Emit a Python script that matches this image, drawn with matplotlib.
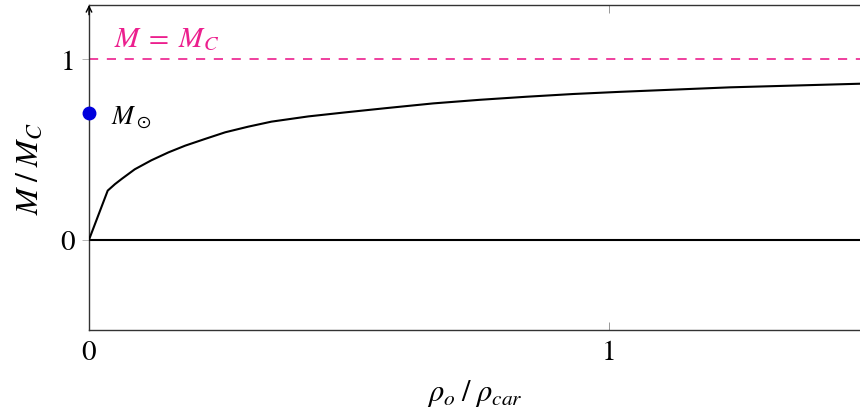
import matplotlib.pyplot as plt
import numpy as np

plt.rcParams['mathtext.fontset'] = 'stix'
plt.rcParams['font.family'] = 'STIXGeneral'

# curve (rho_o / rho_car vs M / M_C)
rho_ratio = [0.0, 0.036, 0.050, 0.063, 0.088, 0.12, 0.153, 0.185, 0.223, 0.262, 0.306,
             0.351, 0.422, 0.492, 0.572, 0.662, 0.752, 0.842, 0.931, 1.021,
             1.233, 1.483]
mass_ratio = [0.0, 0.272, 0.308, 0.337, 0.390, 0.440, 0.484, 0.521, 0.558, 0.595, 0.626,
              0.654, 0.683, 0.705, 0.729, 0.755, 0.775, 0.792, 0.807, 0.819,
              0.844, 0.864]

# reference values
m_limit = 1.0
m_sun = 0.7

x_ticks = [0, 1]
y_ticks = [0, 1]

pink = '#ec1f8e'

fig = plt.figure(figsize=(8.6, 4.14), dpi=100)
ax = fig.add_axes([89 / 860, 1 - 331 / 414, 1 - 89 / 860, 325 / 414])
ax.set_xlim(0, 1.483)
ax.set_ylim(-0.5, 1.3)

# horizontal zero line and limit line
ax.axhline(0, color='black', lw=1.5, zorder=2)
ax.axhline(m_limit, color=pink, lw=1.2, dashes=(5.5, 5.2), zorder=2)
ax.text(0.048, 1.11, r'$M\;=\;M_C$', color=pink, fontsize=21, va='center', ha='left')

# curve
ax.plot(rho_ratio, mass_ratio, color='black', lw=1.5, zorder=3)

# sun marker
ax.plot([0], [m_sun], 'o', color='#0000dd', ms=9, clip_on=False, zorder=4)
ax.text(0.043, 0.68, r'$M_\odot$', fontsize=19, va='center', ha='left')

# axes styling
ax.spines['right'].set_visible(False)
for s in ['left', 'bottom', 'top']:
    ax.spines[s].set_color('#333333')
    ax.spines[s].set_linewidth(1.0)

ax.annotate('', xy=(0, 1.0), xytext=(0, 0.97), xycoords='axes fraction',
            arrowprops=dict(arrowstyle='->', color='black', lw=1.0, shrinkA=0, shrinkB=0))

ax.set_xticks(x_ticks)
ax.set_yticks(y_ticks)
ax.set_xticklabels([str(t) for t in x_ticks], fontsize=21)
ax.set_yticklabels([str(t) for t in y_ticks], fontsize=21)
ax.tick_params(axis='x', direction='in', top=True, length=6, width=0.6, color='#888888', pad=7)
ax.tick_params(axis='y', direction='out', length=5, width=0.6, color='#aaaaaa', pad=5)

ax.set_xlabel(r'$\rho_o\;/\;\rho_{car}$', fontsize=22, labelpad=9)
ax.set_ylabel(r'$M\;/\;M_C$', fontsize=23, labelpad=11)

fig.savefig('out.png', dpi=100)
